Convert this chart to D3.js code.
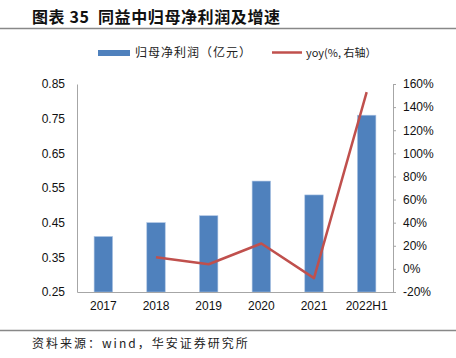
<!DOCTYPE html>
<html><head><meta charset="utf-8">
<script src="https://cdn.jsdelivr.net/npm/d3@7"></script>
<style>body{margin:0;background:#fff}svg{display:block}</style>
</head><body>
<svg id="c" width="456" height="358"></svg>
<script>
const categories = ["2017","2018","2019","2020","2021","2022H1"];
const profit = [0.41,0.45,0.47,0.57,0.53,0.76];
const yoy = [null,10,4,22,-8,153];
const leftTicks = [0.25,0.35,0.45,0.55,0.65,0.75,0.85];
const rightTicks = [-20,0,20,40,60,80,100,120,140,160];
const titleText = "图表 35  同益中归母净利润及增速";
const legendBar = "归母净利润（亿元）";
const legendLine = "yoy(%, 右轴）";
const sourceText = "资料来源：wind，华安证券研究所";

const svg = d3.select("#c");
const font = "'Liberation Sans', Arial, sans-serif";
const cjk = "'Noto Sans CJK SC', sans-serif";
const L = 77, R = 393, T = 84, B = 292;

const x = d3.scaleBand().domain(categories).range([L, R]).paddingInner(0.65).paddingOuter(0.325);
const yL = d3.scaleLinear().domain([0.25,0.85]).range([B, T]);
const yR = d3.scaleLinear().domain([-20,160]).range([B, T]);

// title
svg.append("text").attr("x",32).attr("y",23).attr("font-family",cjk).attr("font-weight","bold")
  .attr("font-size",16).attr("letter-spacing",0.6).attr("fill","#111").attr("xml:space","preserve").text(titleText);
svg.append("line").attr("x1",0).attr("x2",456).attr("y1",28.5).attr("y2",28.5).attr("stroke","#888").attr("stroke-width",1.5);

// legend
svg.append("rect").attr("x",98).attr("y",50).attr("width",32).attr("height",6).attr("fill","#4F81BD");
svg.append("text").attr("x",135).attr("y",57).attr("font-family",cjk).attr("font-size",12).attr("letter-spacing",1).attr("fill","#222").text(legendBar);
svg.append("line").attr("x1",272).attr("x2",302).attr("y1",52.5).attr("y2",52.5).attr("stroke","#C0504D").attr("stroke-width",2.5);
svg.append("text").attr("x",306).attr("y",57).attr("font-family",cjk).attr("font-size",11).attr("fill","#222").text(legendLine);

// bars
svg.append("g").selectAll("rect").data(profit).join("rect")
  .attr("x",(d,i)=>x(categories[i])).attr("width",x.bandwidth())
  .attr("y",d=>yL(d)).attr("height",d=>B-yL(d))
  .attr("fill","#4F81BD").attr("stroke","#A9C2E3").attr("stroke-width",0.6);

// left axis
const gl = svg.append("g").attr("transform",`translate(${L},0)`)
  .call(d3.axisLeft(yL).tickValues(leftTicks).tickSize(0).tickPadding(12).tickFormat(d3.format(".2f")));
gl.select(".domain").attr("stroke","#A6A6A6");
gl.selectAll("text").attr("font-family",font).attr("font-size",12).attr("fill","#111");

// right axis
const gr = svg.append("g").attr("transform",`translate(${R},0)`)
  .call(d3.axisRight(yR).tickValues(rightTicks).tickSize(3).tickPadding(7).tickFormat(d=>d+"%"));
gr.select(".domain").attr("stroke","#A6A6A6");
gr.selectAll("line").attr("stroke","#A6A6A6");
gr.selectAll("text").attr("font-family",font).attr("font-size",12).attr("fill","#111");

// bottom axis
const gb = svg.append("g").attr("transform",`translate(0,${B})`)
  .call(d3.axisBottom(x).tickSize(0).tickPadding(9));
gb.select(".domain").attr("stroke","#A6A6A6");
gb.selectAll("text").attr("font-family",font).attr("font-size",12).attr("fill","#111");

// line
const line = d3.line().defined(d=>d!=null)
  .x((d,i)=>x(categories[i])+x.bandwidth()/2).y(d=>yR(d));
svg.append("path").datum(yoy).attr("d",line).attr("fill","none")
  .attr("stroke","#C0504D").attr("stroke-width",2.5).attr("stroke-linejoin","round");

// footer
svg.append("line").attr("x1",0).attr("x2",456).attr("y1",330.5).attr("y2",330.5).attr("stroke","#888").attr("stroke-width",1.5);
svg.append("text").attr("x",32).attr("y",348).attr("font-family",cjk).attr("font-size",12).attr("letter-spacing",2).attr("fill","#222").text(sourceText);
</script>
</body></html>
